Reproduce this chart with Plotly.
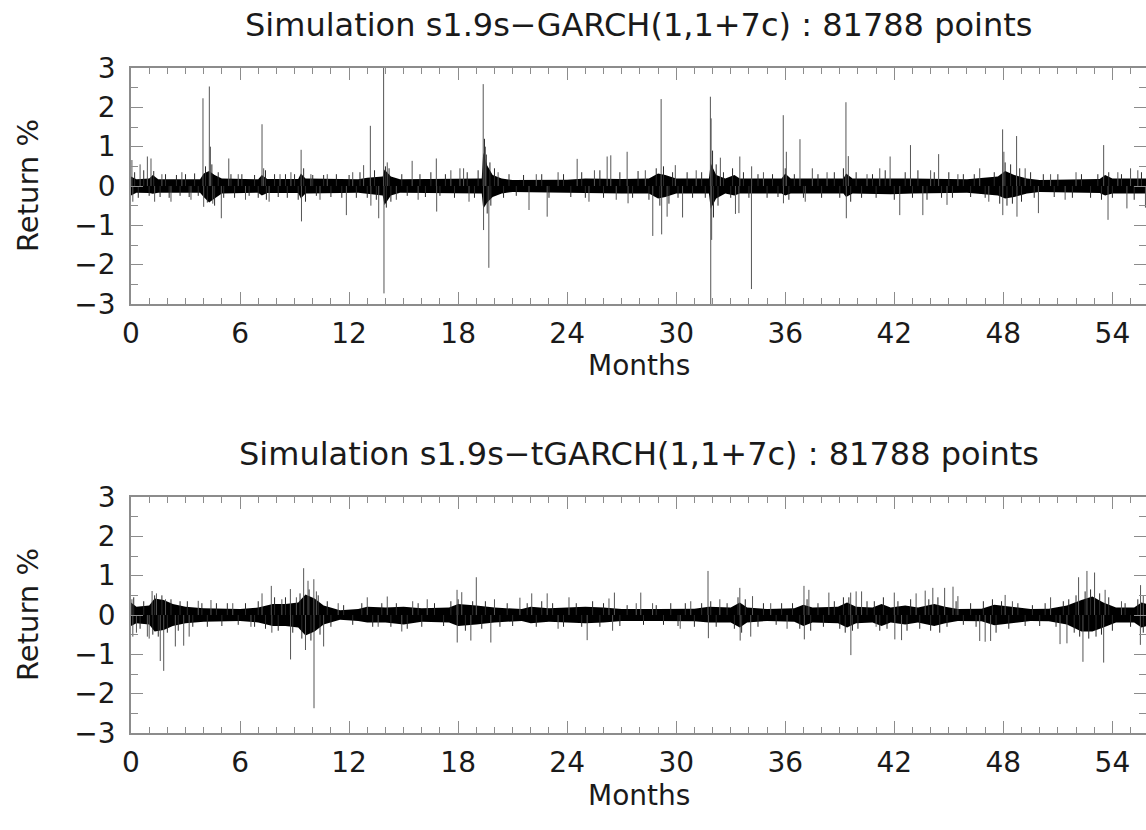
import plotly.graph_objects as go

# ---------------- data ----------------
TITLES = ["Simulation s1.9s\u2212GARCH(1,1+7c) : 81788 points",
          "Simulation s1.9s\u2212tGARCH(1,1+7c) : 81788 points"]
X_LABEL = "Months"
Y_LABEL = "Return %"
X_TICKS = [0, 6, 12, 18, 24, 30, 36, 42, 48, 54]
Y_TICKS = [-3, -2, -1, 0, 1, 2, 3]

# dense volatility band (month, upper, lower) - GARCH panel
garch_env_month = [0, 0.3, 1.0, 1.2, 1.5, 3.8, 4.0, 4.3, 4.6, 5.0, 7.0, 7.2, 7.5, 9.2, 9.35, 9.6,
                   12.5, 13.0, 13.85, 13.95, 14.3, 14.8, 19.3, 19.38, 19.6, 19.9, 20.4, 21, 24, 25,
                   27, 28.5, 29.0, 29.4, 30.0, 31.8, 31.9, 32.2, 32.7, 33.2, 33.5, 35.8, 36.0, 36.3,
                   39.2, 39.35, 39.7, 41.8, 43, 46, 47.7, 48.1, 48.6, 49.3, 50, 53.3, 53.6, 54, 55.9]
garch_env_up = [0.24, 0.17, 0.19, 0.28, 0.17, 0.17, 0.32, 0.38, 0.28, 0.19, 0.17, 0.28, 0.18, 0.18, 0.32, 0.19,
                0.17, 0.21, 0.24, 0.42, 0.24, 0.17, 0.19, 0.85, 0.52, 0.28, 0.19, 0.15, 0.16, 0.19,
                0.18, 0.19, 0.32, 0.28, 0.19, 0.19, 0.58, 0.28, 0.19, 0.28, 0.19, 0.19, 0.32, 0.19,
                0.19, 0.32, 0.19, 0.19, 0.19, 0.17, 0.24, 0.38, 0.28, 0.19, 0.15, 0.18, 0.28, 0.19, 0.19]
garch_env_low = [-0.24, -0.17, -0.18, -0.2, -0.17, -0.17, -0.28, -0.42, -0.32, -0.19, -0.17, -0.24, -0.18, -0.18, -0.32, -0.19,
                 -0.17, -0.2, -0.24, -0.48, -0.24, -0.17, -0.19, -0.58, -0.42, -0.28, -0.19, -0.15, -0.16, -0.18,
                 -0.19, -0.19, -0.32, -0.28, -0.19, -0.19, -0.58, -0.32, -0.19, -0.24, -0.19, -0.19, -0.24, -0.19,
                 -0.19, -0.28, -0.19, -0.21, -0.19, -0.17, -0.24, -0.32, -0.28, -0.19, -0.15, -0.18, -0.24, -0.19, -0.19]

# isolated large returns - GARCH panel
garch_spike_month = [0.05, 0.1, 0.5, 0.9, 1.1, 1.3, 1.7, 2.2, 2.8, 3.3, 3.96, 4.0, 4.31, 4.37, 4.5, 4.97,
                     5.38, 5.9, 6.3, 7.21, 7.3, 7.6, 8.2, 8.8, 9.36, 9.38, 9.9, 10.4, 10.8, 11.85, 12.2,
                     12.8, 13.17, 13.2, 13.63, 13.9, 13.92, 14.1, 14.6, 15.47, 15.8, 16.8, 16.82, 17.6,
                     18.1, 18.3, 18.6, 19.38, 19.4, 19.69, 19.5, 20.2, 21.9, 22.3, 22.9, 23.5, 24.55,
                     25.2, 25.5, 26.2, 26.4, 26.7, 27.3, 27.35, 28.3, 28.71, 29.17, 29.2, 29.5, 29.95,
                     30.35, 31.1, 31.88, 31.9, 31.92, 31.95, 32.43, 33.26, 33.5, 33.45, 34.14, 34.15,
                     34.8, 35.89, 35.9, 36.06, 36.81, 37.1, 37.49, 38.3, 39.34, 39.36, 39.47, 40.5,
                     41.2, 41.77, 42.3, 42.89, 43.57, 44.0, 44.44, 44.9, 45.5, 46.7, 47.2, 47.96,
                     47.97, 48.03, 48.73, 48.75, 49.2, 49.93, 50.6, 51.4, 52.0, 53.52, 53.76, 54.3,
                     54.8, 55.0, 55.4, 55.82]
garch_spike_value = [0.66, -0.4, 0.55, 0.75, 0.7, -0.4, 0.3, -0.4, 0.35, -0.35, 2.23, -0.53, 2.53, 1.0, -0.45, -0.82,
                     0.7, 0.3, -0.35, 1.57, 0.45, -0.4, 0.3, 0.35, 0.92, -0.9, 0.3, -0.35, 0.3, -0.74, 0.35,
                     0.53, 1.53, -0.5, -0.82, 3.2, -2.73, 0.6, -0.35, 0.64, -0.35, 0.7, -0.65, 0.4,
                     0.45, 0.45, -0.4, 2.59, -1.12, -2.08, 1.0, 0.35, -0.61, 0.3, -0.78, 0.35, 0.69,
                     -0.4, 0.4, 0.75, 0.78, -0.35, 0.87, -0.44, 0.4, -1.27, 2.21, -1.23, -0.78, 0.53,
                     -0.8, 0.4, 2.27, -3.1, 1.72, -1.37, 0.72, -0.71, 0.75, -0.69, -2.62, 0.5,
                     0.35, 1.8, -0.44, 0.87, 1.19, -0.4, 0.45, 0.35, 2.13, -0.82, 0.76, 0.3,
                     0.45, 0.75, -0.74, 1.04, -0.74, 0.4, 0.81, -0.48, 0.3, 0.45, -0.4, 1.44,
                     -0.74, 0.87, 1.27, -0.78, 0.45, -0.69, 0.3, -0.35, 0.35, 1.04, -0.86, 0.35,
                     -0.57, 0.45, 0.4, -0.55]

# small returns fringing the band - GARCH panel
garch_fringe_month = [0.2, 0.4, 0.7, 1.0, 1.25, 1.6, 1.9, 2.1, 2.5, 2.7, 3.0, 3.2, 3.5, 3.7, 4.1, 4.2, 4.45, 4.6,
                      4.8, 5.1, 5.5, 5.7, 6.1, 6.5, 6.8, 7.0, 7.4, 7.45, 7.9, 8.1, 8.5, 8.6, 9.0, 9.2, 9.5, 9.6,
                      10.0, 10.2, 10.6, 11.0, 11.3, 11.6, 12.0, 12.4, 12.6, 13.0, 13.4, 13.5, 14.0, 14.05,
                      14.2, 14.3, 14.9, 15.2, 15.9, 16.2, 16.5, 17.0, 17.3, 17.8, 18.5, 18.9, 19.1, 19.45,
                      19.55, 19.6, 19.75, 19.8, 20.0, 20.5, 20.8, 21.2, 21.6, 22.6, 23.0, 23.8, 24.2, 24.8,
                      25.0, 25.8, 26.0, 26.9, 27.6, 27.9, 28.5, 28.9, 29.1, 29.3, 29.6, 29.8, 30.1, 30.6,
                      30.9, 31.4, 31.6, 32.0, 32.05, 32.2, 32.3, 32.6, 33.0, 33.1, 33.7, 34.0, 34.5, 35.0,
                      35.3, 35.6, 36.0, 36.2, 36.5, 37.0, 37.8, 38.0, 38.7, 39.0, 39.2, 39.6, 39.9, 40.2,
                      40.8, 41.0, 41.5, 42.0, 42.6, 43.0, 43.3, 43.8, 44.2, 44.6, 45.0, 45.2, 45.8, 46.2,
                      46.4, 47.0, 47.5, 47.8, 48.1, 48.2, 48.4, 48.5, 48.9, 49.0, 49.5, 49.7, 50.2, 50.8,
                      51.0, 51.8, 52.3, 52.8, 53.2, 53.4, 53.8, 54.0, 54.5, 55.2, 55.6]
garch_fringe_value = [0.35, -0.3, 0.4, -0.25, 0.38, -0.28, 0.3, -0.3, 0.28, -0.25, 0.3, -0.28, 0.32, -0.25, 0.5, -0.42, 0.55, -0.5,
                      0.35, -0.3, 0.3, -0.3, 0.3, -0.25, 0.28, -0.3, 0.4, -0.35, 0.3, -0.28, 0.3, -0.3, 0.3, -0.35, 0.45, -0.4,
                      0.28, -0.25, 0.28, -0.28, 0.3, -0.3, 0.28, -0.3, 0.35, -0.3, 0.4, -0.35, 0.5, -0.55,
                      0.45, -0.4, 0.3, -0.25, 0.3, -0.28, 0.35, -0.25, 0.3, -0.3, 0.35, -0.3, 0.4, 1.2,
                      0.8, -0.7, 0.6, -0.5, 0.45, -0.3, 0.3, -0.25, 0.28, 0.3, -0.3, 0.3, -0.28, 0.35,
                      -0.3, 0.4, -0.3, 0.35, -0.3, 0.38, -0.35, 0.45, -0.5, 0.5, -0.45, 0.35, -0.3, 0.35,
                      -0.3, 0.35, -0.3, 0.9, -0.8, 0.55, -0.5, 0.35, -0.3, 0.45, 0.35, -0.3, 0.3, -0.3,
                      0.3, -0.28, 0.45, -0.35, 0.3, -0.3, 0.3, -0.3, 0.35, -0.3, 0.45, -0.4, 0.35, -0.3,
                      0.3, -0.3, 0.4, -0.35, 0.35, -0.3, 0.4, -0.35, 0.35, -0.3, 0.35, -0.3, 0.3, -0.28,
                      0.3, -0.3, 0.35, -0.45, 0.6, -0.5, 0.55, -0.45, 0.45, -0.4, 0.35, -0.3, 0.3, -0.28,
                      0.3, -0.3, 0.3, -0.3, 0.3, -0.35, 0.35, -0.3, 0.3, -0.35, 0.35]

# dense volatility band (month, upper, lower) - tGARCH panel
tgarch_env_month = [0, 0.3, 1.0, 1.3, 1.8, 2.3, 3.0, 4.0, 6.0, 7.0, 7.8, 8.5, 9.2, 9.6, 10.1, 10.6,
                    11.5, 12.5, 13, 14, 15, 16, 17.5, 18, 19, 20, 21.5, 22, 23, 25, 26, 27, 29, 31,
                    31.8, 33.0, 33.5, 33.9, 35, 36.5, 37.0, 37.5, 38.9, 39.4, 39.9, 40.8, 41.3, 41.8,
                    42.6, 43.3, 44.2, 44.8, 45.5, 46.8, 47.5, 48.3, 49.5, 50.5, 51.5, 52.3, 52.9,
                    53.5, 54.2, 55.2, 55.6, 55.9]
tgarch_env_up = [0.32, 0.21, 0.24, 0.42, 0.38, 0.28, 0.21, 0.17, 0.15, 0.19, 0.28, 0.28, 0.32, 0.52, 0.42, 0.24,
                 0.12, 0.15, 0.21, 0.19, 0.21, 0.17, 0.19, 0.28, 0.24, 0.19, 0.15, 0.21, 0.17, 0.21, 0.19, 0.15, 0.15, 0.16,
                 0.21, 0.19, 0.32, 0.19, 0.15, 0.17, 0.26, 0.19, 0.21, 0.32, 0.21, 0.19, 0.28, 0.19,
                 0.24, 0.19, 0.28, 0.21, 0.15, 0.16, 0.26, 0.21, 0.15, 0.16, 0.24, 0.38, 0.47,
                 0.32, 0.19, 0.19, 0.32, 0.28]
tgarch_env_low = [-0.28, -0.21, -0.24, -0.42, -0.38, -0.28, -0.21, -0.17, -0.15, -0.19, -0.28, -0.28, -0.32, -0.52, -0.42, -0.24,
                  -0.12, -0.15, -0.19, -0.19, -0.24, -0.17, -0.19, -0.28, -0.24, -0.19, -0.15, -0.21, -0.17, -0.21, -0.19, -0.15, -0.15, -0.16,
                  -0.19, -0.19, -0.32, -0.19, -0.15, -0.17, -0.28, -0.19, -0.21, -0.32, -0.21, -0.19, -0.28, -0.19,
                  -0.24, -0.19, -0.28, -0.21, -0.15, -0.16, -0.26, -0.21, -0.15, -0.16, -0.24, -0.42, -0.42,
                  -0.32, -0.19, -0.19, -0.32, -0.28]

# isolated large returns - tGARCH panel
tgarch_spike_month = [0.05, 0.1, 0.3, 0.9, 1.0, 1.16, 1.4, 1.61, 1.8, 1.9, 2.44, 2.9, 3.2, 3.7, 4.4, 5.6,
                      6.6, 7.21, 7.72, 7.75, 8.3, 8.77, 8.78, 9.1, 9.5, 9.6, 9.74, 10.06, 10.07, 10.2,
                      10.6, 11.4, 13.0, 13.6, 14.1, 14.9, 15.5, 16.3, 17.94, 17.95, 18.2, 18.7, 19.0,
                      19.8, 20.0, 21.4, 22.05, 22.9, 23.5, 24.1, 25.1, 26.3, 26.6, 26.5, 27.8,
                      28.05, 28.7, 30.22, 30.8, 31.75, 31.77, 32.4, 33.5, 33.52, 34.2, 34.1, 35.2,
                      36.1, 37.03, 37.05, 37.3, 38.4, 39.61, 39.6, 39.9, 40.2, 41.0, 42.0, 42.03,
                      42.4, 43.2, 43.7, 44.12, 44.77, 45.23, 45.5, 46.7, 47.0, 47.3, 48.1, 48.5,
                      50.6, 51.12, 51.5, 52.14, 52.38, 52.6, 53.02, 53.52, 53.6, 54.5, 55.54, 55.55, 55.7]
tgarch_spike_value = [0.4, -0.55, -0.45, -0.55, -0.6, 0.61, 0.55, -1.17, -1.42, 0.4, -0.8, -0.78, -0.55, 0.36, 0.38, 0.3,
                      -0.3, 0.55, 0.74, -0.45, 0.4, 0.66, -1.13, 0.45, 1.19, -0.89, 0.87, 0.91, -2.37, 0.6,
                      -0.8, 0.3, 0.45, -0.3, 0.47, -0.42, 0.35, 0.4, 0.64, -0.7, 0.58, -0.65, 0.96,
                      -0.7, 0.4, 0.44, 0.55, 0.55, -0.35, 0.45, -0.64, 0.42, 0.57, -0.4, 0.3,
                      0.57, 0.3, -0.35, 0.35, 1.12, -0.59, 0.4, 0.69, -0.65, 0.48, -0.55, 0.3,
                      -0.35, 0.74, -0.62, 0.64, 0.57, -1.02, 0.57, 0.6, 0.6, -0.3, 0.57, -0.62,
                      -0.64, 0.55, 0.62, 0.69, 0.69, 0.72, 0.48, -0.66, -0.68, -0.66, 0.51, 0.35,
                      0.45, -0.74, -0.72, 0.96, -1.19, 1.12, 1.08, -1.21, 0.64, 0.35, -0.76, 0.76, 0.5]

# small returns fringing the band - tGARCH panel
tgarch_fringe_month = [0.15, 0.5, 0.7, 1.2, 1.3, 1.5, 1.7, 2.0, 2.2, 2.6, 2.7, 3.1, 3.4, 3.9, 4.2, 4.7, 5.0, 5.3,
                       5.9, 6.3, 6.8, 7.0, 7.4, 7.9, 8.1, 8.5, 8.9, 9.3, 9.4, 9.8, 9.9, 10.3, 10.4, 10.8, 11.0,
                       11.7, 12.2, 12.7, 13.3, 13.8, 14.3, 14.6, 15.2, 15.8, 16.0, 16.7, 17.2, 17.6, 18.0, 18.4,
                       18.8, 19.3, 19.5, 20.3, 20.7, 21.0, 21.8, 22.3, 22.6, 23.2, 23.8, 24.5, 24.8, 25.4, 25.8,
                       26.0, 26.9, 27.3, 28.2, 28.9, 29.3, 29.7, 30.1, 30.5, 31.0, 31.4, 31.9, 32.2, 32.8, 33.2,
                       33.4, 33.6, 33.8, 34.5, 34.8, 35.5, 35.8, 36.4, 36.8, 37.2, 37.4, 37.8, 38.1, 38.7, 39.0,
                       39.2, 39.3, 39.5, 39.7, 40.0, 40.5, 40.9, 41.2, 41.4, 41.6, 42.2, 42.7, 42.9, 43.4, 43.9,
                       44.0, 44.4, 44.5, 44.9, 45.4, 45.8, 46.2, 46.5, 46.9, 47.4, 47.6, 47.9, 48.3, 48.8, 49.2,
                       49.6, 50.0, 50.3, 50.9, 51.3, 51.6, 51.9, 52.0, 52.2, 52.5, 52.7, 52.8, 53.1, 53.3, 53.4,
                       53.8, 54.0, 54.7, 55.0, 55.4, 55.7]
tgarch_fringe_value = [0.45, -0.35, 0.35, -0.5, 0.5, -0.55, 0.5, -0.45, 0.4, -0.4, 0.35, 0.35, -0.3, 0.3, -0.3, 0.3, -0.28, 0.3,
                       -0.25, 0.3, -0.3, 0.35, -0.35, 0.45, -0.4, 0.45, -0.45, 0.55, -0.6, 0.65, -0.65, 0.5, -0.5, 0.35, -0.3,
                       0.25, -0.25, 0.3, -0.3, 0.3, -0.3, 0.3, -0.35, 0.3, -0.3, 0.3, -0.28, 0.35, 0.4, -0.4,
                       0.35, -0.35, 0.35, -0.3, 0.3, -0.28, 0.3, -0.3, 0.35, 0.3, -0.3, 0.3, -0.3, 0.35, -0.3,
                       0.3, -0.28, 0.25, -0.25, 0.25, -0.25, 0.3, -0.28, 0.3, -0.3, 0.3, 0.35, -0.3, 0.3, -0.35,
                       0.45, -0.45, 0.4, -0.3, 0.3, -0.25, 0.3, 0.3, -0.35, 0.4, -0.4, 0.3, -0.3, 0.35, -0.35,
                       0.45, -0.45, 0.45, -0.4, -0.35, 0.35, 0.35, -0.4, 0.45, -0.35, 0.35, -0.4, 0.4, -0.35, 0.4,
                       -0.4, 0.45, -0.45, -0.3, 0.35, -0.25, 0.3, -0.3, 0.35, 0.4, -0.45, 0.35, -0.35, 0.3, -0.28,
                       0.25, -0.28, 0.3, -0.3, 0.35, 0.4, -0.45, 0.5, -0.55, 0.6, -0.6, 0.65, -0.55, 0.55, -0.5,
                       0.45, -0.4, 0.3, -0.3, 0.4, -0.45]

# ---------------- figure ----------------
W, H = 1146, 830
FONT = "DejaVu Sans, Liberation Sans, Arial, sans-serif"
TXT = "#1a1a1a"
FRAME = "#8c8c8c"
X_MAX = 55.85

fig = go.Figure()

panels = [
    (garch_env_month, garch_env_up, garch_env_low, garch_spike_month, garch_spike_value,
     garch_fringe_month, garch_fringe_value),
    (tgarch_env_month, tgarch_env_up, tgarch_env_low, tgarch_spike_month, tgarch_spike_value,
     tgarch_fringe_month, tgarch_fringe_value),
]
# pixel boxes of the two plot areas (top, bottom)
boxes = [(68, 304), (497, 733)]
x0_frac = 131 / W


def segs(months, values):
    xs, ys = [], []
    for m, v in zip(months, values):
        xs += [m, m, None]
        ys += [0, v, None]
    return xs, ys


for i, (em, eu, el, sm, sv, fm, fv) in enumerate(panels):
    xa = "x" if i == 0 else "x2"
    ya = "y" if i == 0 else "y2"
    fig.add_trace(go.Scatter(x=em, y=el, mode="lines", line=dict(width=0, color="black"),
                             xaxis=xa, yaxis=ya, hoverinfo="skip", showlegend=False))
    fig.add_trace(go.Scatter(x=em, y=eu, mode="lines", line=dict(width=0, color="black"),
                             fill="tonexty", fillcolor="black",
                             xaxis=xa, yaxis=ya, hoverinfo="skip", showlegend=False))
    fx, fy = segs(fm, fv)
    fig.add_trace(go.Scatter(x=fx, y=fy, mode="lines", line=dict(width=1, color="#2a2a2a"),
                             xaxis=xa, yaxis=ya, hoverinfo="skip", showlegend=False))
    sx, sy = segs(sm, sv)
    fig.add_trace(go.Scatter(x=sx, y=sy, mode="lines", line=dict(width=1, color="#555555"),
                             xaxis=xa, yaxis=ya, hoverinfo="skip", showlegend=False))

axis_common = dict(
    showgrid=False, zeroline=False, showline=True, linecolor=FRAME, linewidth=1.5,
    mirror="ticks", ticks="inside", tickcolor=FRAME, tickwidth=1.2, automargin=False,
    tickfont=dict(family=FONT, size=28, color=TXT),
)

layout = dict(
    width=W, height=H, margin=dict(l=0, r=0, t=0, b=0, pad=0), autosize=False,
    paper_bgcolor="white", plot_bgcolor="white", showlegend=False,
    font=dict(family=FONT, color=TXT),
)
annotations = []
for i, (top, bot) in enumerate(boxes):
    suf = "" if i == 0 else "2"
    ydom = [(H - bot) / H, (H - top) / H]
    layout["xaxis" + suf] = dict(
        axis_common, domain=[x0_frac, 1], range=[0, X_MAX], tickvals=X_TICKS,
        ticktext=[str(t) for t in X_TICKS], ticklen=12, anchor="y" + suf,
        minor=dict(dtick=1, tick0=0, ticklen=6, ticks="inside", tickcolor=FRAME, tickwidth=1.2),
        ticklabelstandoff=4,
    )
    layout["yaxis" + suf] = dict(
        axis_common, domain=ydom, range=[-3, 3], tickvals=Y_TICKS,
        ticktext=[("\u2212" + str(-t)) if t < 0 else str(t) for t in Y_TICKS], ticklen=12,
        anchor="x" + suf,
        minor=dict(dtick=0.5, tick0=0, ticklen=7, ticks="inside", tickcolor=FRAME, tickwidth=1.2),
        ticklabelstandoff=8,
    )
    cx = (131 + W) / 2 / W
    annotations.append(dict(text=TITLES[i], x=cx, y=(H - (top - 43)) / H, xref="paper", yref="paper",
                            xanchor="center", yanchor="middle", showarrow=False,
                            font=dict(family=FONT, size=32, color=TXT)))
    annotations.append(dict(text=X_LABEL, x=cx, y=(H - (bot + 62)) / H, xref="paper", yref="paper",
                            xanchor="center", yanchor="middle", showarrow=False,
                            font=dict(family=FONT, size=28, color=TXT)))
    annotations.append(dict(text=Y_LABEL, x=28 / W, y=(H - (top + bot) / 2) / H, xref="paper", yref="paper",
                            xanchor="center", yanchor="middle", showarrow=False, textangle=-90,
                            font=dict(family=FONT, size=29, color=TXT)))
layout["annotations"] = annotations
fig.update_layout(**layout)

fig.write_html("out.html")
